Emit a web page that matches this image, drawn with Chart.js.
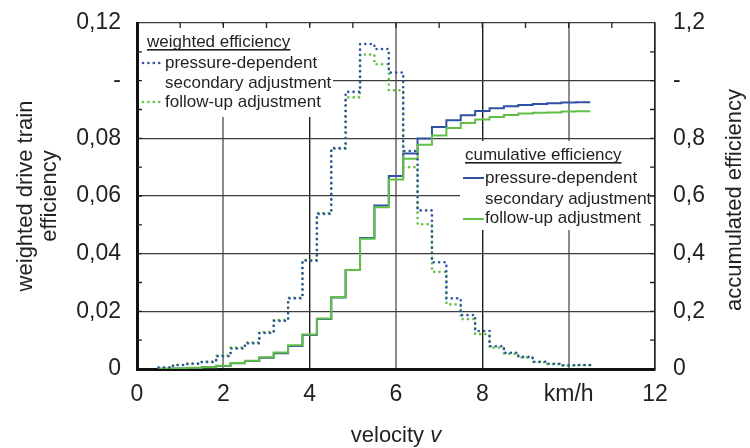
<!DOCTYPE html>
<html>
<head>
<meta charset="utf-8">
<script src="https://cdn.jsdelivr.net/npm/chart.js@4.4.1/dist/chart.umd.min.js"></script>
<style>
  body { margin: 0; background: #fff; }
  canvas { display: block; }
</style>
</head>
<body>
<canvas id="effChart" width="750" height="448"></canvas>
<script>
// bin edges of the velocity classes (km/h)
const velocityEdges = [0.5, 0.833, 1.167, 1.5, 1.833, 2.167, 2.5, 2.833, 3.167, 3.5,
    3.833, 4.167, 4.5, 4.833, 5.167, 5.5, 5.833, 6.167, 6.5, 6.833,
    7.167, 7.5, 7.833, 8.167, 8.5, 8.833, 9.167, 9.5, 9.833, 10.167, 10.5];

// weighted drive train efficiency per class (left axis)
const weightedPressure = [0.0005, 0.0014, 0.0018, 0.0024, 0.0044, 0.0071, 0.0089, 0.0125, 0.0167, 0.0245,
    0.0376, 0.0538, 0.0766, 0.0961, 0.1127, 0.1110, 0.1028, 0.0756, 0.0550, 0.0370,
    0.0245, 0.0187, 0.0132, 0.0079, 0.0056, 0.0042, 0.0025, 0.0018, 0.0013, 0.0014];
const weightedFollowUp = [0.0005, 0.0014, 0.0019, 0.0026, 0.0047, 0.0074, 0.0092, 0.0128, 0.0170, 0.0247,
    0.0378, 0.0541, 0.0764, 0.0942, 0.1091, 0.1057, 0.0967, 0.0700, 0.0502, 0.0337,
    0.0224, 0.0173, 0.0121, 0.0074, 0.0053, 0.0040, 0.0024, 0.0017, 0.0012, 0.0013];

// cumulative efficiency (right axis)
const cumPressure = [0.0005, 0.002, 0.0035, 0.006, 0.0104, 0.0197, 0.028, 0.039, 0.0545, 0.080,
    0.118, 0.173, 0.248, 0.343, 0.4546, 0.567, 0.669, 0.747, 0.799, 0.839,
    0.8626, 0.880, 0.895, 0.904, 0.911, 0.916, 0.919, 0.922, 0.924, 0.925];
const cumFollowUp = [0.0005, 0.002, 0.004, 0.0065, 0.011, 0.0205, 0.029, 0.041, 0.057, 0.082,
    0.120, 0.175, 0.250, 0.343, 0.452, 0.561, 0.657, 0.729, 0.778, 0.810,
    0.836, 0.853, 0.865, 0.874, 0.881, 0.886, 0.889, 0.890, 0.893, 0.894];

const xTickLabels = {0: '0', 2: '2', 4: '4', 6: '6', 8: '8', 10: 'km/h', 12: '12'};
const yTickLabels = ['0', '0,02', '0,04', '0,06', '0,08', '-', '0,12'];
const y2TickLabels = ['0', '0,2', '0,4', '0,6', '0,8', '-', '1,2'];

const BLUE = '#2f52a3';
const GREEN = '#62bf45';
const FONT = 'Liberation Sans, Arial, sans-serif';

Chart.defaults.font.family = FONT;
Chart.defaults.color = '#231f20';

// value of a class holds from its left edge to the next edge
function stepPoints(values) {
    return velocityEdges.map((x, i) => ({x: x, y: values[Math.min(i, values.length - 1)]}));
}

// fixed axis sizes so the plot area sits where the original one does
function fixSize(size) {
    return s => {
        if (s.isHorizontal()) s.height = size; else s.width = size;
        s.paddingTop = 0;
        s.paddingBottom = 0;
    };
}

// legends, inward ticks and the x / right titles are drawn by hand
const decorations = {
    id: 'decorations',
    beforeDatasetsDraw(chart) {
        const c = chart.ctx;
        c.save();
        c.fillStyle = '#fff';
        c.fillRect(139, 25, 194, 92);
        c.fillRect(460, 141, 193, 89);

        c.font = '17px ' + FONT;
        c.fillStyle = '#231f20';
        c.textBaseline = 'middle';
        c.textAlign = 'left';

        // weighted legend
        c.fillText('weighted efficiency', 147, 42.5);
        let w = c.measureText('weighted efficiency').width;
        c.fillRect(147, 49, w, 1.6);
        c.fillText('pressure-dependent', 165, 63);
        c.fillText('secondary adjustment', 165, 83);
        c.fillText('follow-up adjustment', 165, 102);

        // cumulative legend
        c.fillText('cumulative efficiency', 465, 155);
        w = c.measureText('cumulative efficiency').width;
        c.fillRect(465, 162, w, 1.6);
        c.fillText('pressure-dependent', 485, 178);
        c.fillText('secondary adjustment', 485, 199);
        c.fillText('follow-up adjustment', 485, 218.5);

        c.lineCap = 'round';
        c.lineWidth = 2.6;
        c.setLineDash([0.01, 5.4]);
        c.strokeStyle = BLUE;
        c.beginPath(); c.moveTo(143, 63); c.lineTo(162, 63); c.stroke();
        c.strokeStyle = GREEN;
        c.beginPath(); c.moveTo(143, 102); c.lineTo(162, 102); c.stroke();

        c.setLineDash([]);
        c.lineCap = 'butt';
        c.lineWidth = 2;
        c.strokeStyle = BLUE;
        c.beginPath(); c.moveTo(463, 178); c.lineTo(484, 178); c.stroke();
        c.strokeStyle = GREEN;
        c.beginPath(); c.moveTo(463, 219); c.lineTo(484, 219); c.stroke();
        c.restore();
    },
    afterDraw(chart) {
        const c = chart.ctx;
        const {x, y, y2} = chart.scales;
        const a = chart.chartArea;
        c.save();
        c.strokeStyle = '#231f20';
        c.lineWidth = 1.3;
        c.beginPath();
        for (let v = 1; v < 12; v++) {
            const px = x.getPixelForValue(v);
            c.moveTo(px, a.top); c.lineTo(px, a.top + 5);
        }
        for (let v = 1; v < 12; v++) {
            const py = y.getPixelForValue(v / 100);
            c.moveTo(a.left, py); c.lineTo(a.left + 5, py);
        }
        for (let v = 1; v < 12; v++) {
            const py = y2.getPixelForValue(v / 10);
            c.moveTo(a.right, py); c.lineTo(a.right - 5, py);
        }
        c.stroke();

        c.fillStyle = '#231f20';
        c.textBaseline = 'middle';

        // x axis title with italic symbol
        c.textAlign = 'left';
        c.font = '22px ' + FONT;
        const t1 = 'velocity ';
        const w1 = c.measureText(t1).width;
        c.font = 'italic 22px ' + FONT;
        const w2 = c.measureText('v').width;
        const x0 = (a.left + a.right) / 2 - (w1 + w2) / 2;
        c.font = '22px ' + FONT;
        c.fillText(t1, x0, 436);
        c.font = 'italic 22px ' + FONT;
        c.fillText('v', x0 + w1, 436);

        // right axis title, reading upwards
        c.font = '22px ' + FONT;
        c.textAlign = 'center';
        c.translate(735, 200);
        c.rotate(-Math.PI / 2);
        c.fillText('accumulated efficiency', 0, 0);
        c.restore();
    }
};

const ctx = document.getElementById('effChart').getContext('2d');

const effChart = new Chart(ctx, {
    type: 'line',
    data: {
        datasets: [
            {
                label: 'weighted pressure-dependent',
                data: stepPoints(weightedPressure),
                yAxisID: 'y',
                borderColor: BLUE,
                borderWidth: 2.6,
                borderDash: [0.01, 5.4],
                borderCapStyle: 'round'
            },
            {
                label: 'weighted follow-up',
                data: stepPoints(weightedFollowUp),
                yAxisID: 'y',
                borderColor: GREEN,
                borderWidth: 2.6,
                borderDash: [0.01, 5.4],
                borderCapStyle: 'round'
            },
            {
                label: 'cumulative follow-up',
                data: stepPoints(cumFollowUp),
                yAxisID: 'y2',
                borderColor: GREEN,
                borderWidth: 2
            },
            {
                label: 'cumulative pressure-dependent',
                data: stepPoints(cumPressure),
                yAxisID: 'y2',
                borderColor: BLUE,
                borderWidth: 2
            }
        ]
    },
    options: {
        responsive: false,
        animation: false,
        devicePixelRatio: 1,
        layout: {padding: {top: 23, left: 0, right: 0, bottom: 0}},
        elements: {
            line: {stepped: true, fill: false},
            point: {radius: 0, hoverRadius: 0}
        },
        scales: {
            x: {
                type: 'linear',
                min: 0,
                max: 12,
                afterFit: fixSize(79),
                border: {color: '#111', width: 3},
                grid: {
                    drawTicks: false,
                    color: c => (c.tick && c.tick.value % 4 === 0) ? '#1e1e1e' : '#8c8c8c',
                    lineWidth: c => (c.tick && c.tick.value % 4 === 0) ? 1.4 : 2
                },
                ticks: {
                    stepSize: 2,
                    autoSkip: false,
                    maxRotation: 0,
                    padding: 12,
                    font: {size: 23},
                    callback: v => xTickLabels[v]
                }
            },
            y: {
                position: 'left',
                min: 0,
                max: 0.12,
                afterFit: fixSize(137),
                border: {color: '#111', width: 3},
                grid: {drawTicks: false, color: '#3c3c3c', lineWidth: 1.3},
                ticks: {
                    stepSize: 0.02,
                    autoSkip: false,
                    padding: 16,
                    font: {size: 23},
                    callback: (v, i) => yTickLabels[i]
                },
                title: {
                    display: true,
                    text: ['weighted drive train', 'efficiency'],
                    font: {size: 22, lineHeight: 1.1},
                    padding: {top: 14, bottom: 0}
                }
            },
            y2: {
                position: 'right',
                min: 0,
                max: 1.2,
                afterFit: fixSize(95),
                border: {color: '#222', width: 1.5},
                grid: {drawOnChartArea: false, drawTicks: false},
                ticks: {
                    stepSize: 0.2,
                    autoSkip: false,
                    padding: 18,
                    font: {size: 23},
                    callback: (v, i) => y2TickLabels[i]
                }
            }
        },
        plugins: {
            legend: {display: false},
            tooltip: {enabled: false}
        }
    },
    plugins: [decorations]
});
</script>
</body>
</html>
